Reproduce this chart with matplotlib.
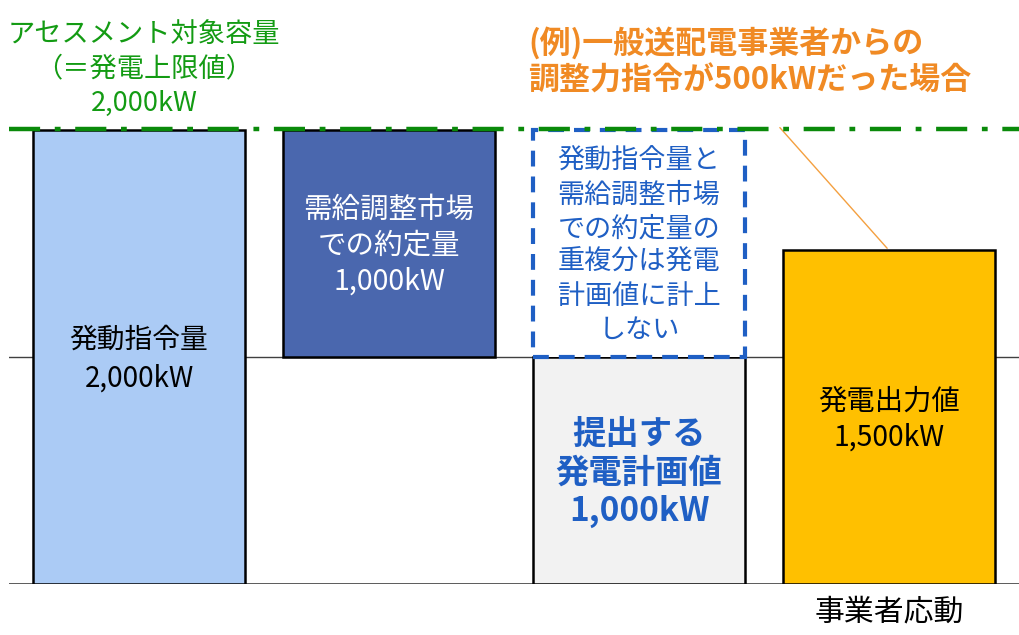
import matplotlib.pyplot as plt

plt.rcParams['font.family'] = ['Noto Sans CJK JP', 'DejaVu Sans']

# bar data (kW)
x_pos = [0, 1, 2, 2, 3]
bottoms = [0, 1000, 1000, 0, 0]
heights = [2000, 1000, 1000, 1000, 1470]
fills = ['#abcbf5', '#4a67ae', 'white', '#f2f2f2', '#ffc000']
bar_texts = ['発動指令量\n2,000kW',
             '需給調整市場\nでの約定量\n1,000kW',
             '発動指令量と\n需給調整市場\nでの約定量の\n重複分は発電\n計画値に計上\nしない',
             '提出する\n発電計画値\n1,000kW',
             '発電出力値\n1,500kW']
text_colors = ['black', 'white', '#1f5fc4', '#1f5fc4', 'black']
upper_limit = 2000
dispatch_order = 500

# text style per bar (size, linespacing)
sizes = [20, 20.5, 19.5, 24, 20.4]
spacings = [1.36, 1.26, 1.32, 1.2, 1.27]

fig = plt.figure(figsize=(10.19, 6.35), dpi=100)
ax = fig.add_axes([9 / 1019, 51 / 635, 1010 / 1019, 584 / 635])
ax.set_xlim(-0.52, 3.52)
ax.set_ylim(0, 2573)
ax.axis('off')

ax.axhline(0, color='#404040', lw=1.2, zorder=1)
ax.axhline(1000, color='#404040', lw=1.0, zorder=1)

for i in range(len(x_pos)):
    if i == 2:
        ax.bar(x_pos[i], heights[i], bottom=bottoms[i], width=0.85,
               color='white', edgecolor='#1f5fc4', lw=3, ls=(0, (3.8, 2.4)), zorder=3)
    else:
        ax.bar(x_pos[i], heights[i], bottom=bottoms[i], width=0.85,
               color=fills[i], edgecolor='black', lw=1.8, zorder=2)
    bold = 'bold' if i == 3 else 'normal'
    ax.text(x_pos[i], bottoms[i] + heights[i] / 2 - 10, bar_texts[i], ha='center', va='center',
            color=text_colors[i], fontsize=sizes[i], fontweight=bold,
            linespacing=spacings[i], zorder=5)

# upper limit line
ax.axhline(upper_limit + 5, color='#0a8a0a', lw=3.2, dashes=(7, 3.3, 1.3, 3.3), zorder=4)
ax.text(0.02, 2270, 'アセスメント対象容量\n（＝発電上限値）\n2,000kW', ha='center', va='center',
        color='#139b13', fontsize=19.6, linespacing=1.36)

ax.text(1.556, 2300, '(例)一般送配電事業者からの\n調整力指令が%dkWだった場合' % dispatch_order,
        ha='left', va='center', color='#f08a24', fontsize=22.3, fontweight='bold', linespacing=1.2)
ax.annotate('', xy=(3, 1470), xytext=(2.556, 2020),
            arrowprops=dict(arrowstyle='-', color='#f4a040', lw=1.0), zorder=3)

ax.text(3, -125, '事業者応動', ha='center', va='center', fontsize=21.5, clip_on=False)

fig.savefig('out.png', dpi=100)
